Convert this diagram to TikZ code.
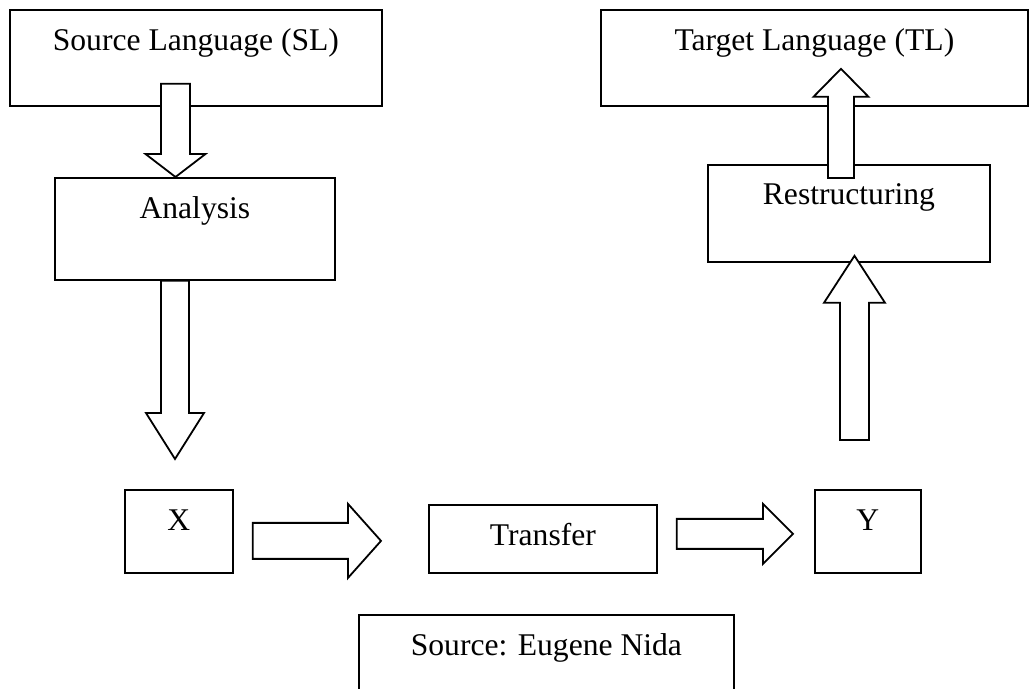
\documentclass[tikz,border=0pt]{standalone}
\usepackage{fontspec}
\setmainfont{Liberation Serif}
\usetikzlibrary{calc}

\tikzset{
  box/.style={draw, line width=0.9pt, inner sep=0pt, anchor=north west,
              font=\fontsize{15.8}{19}\selectfont},
  flowarrow/.style={draw, fill=white, line width=0.9pt, line join=miter},
}

% Hollow block arrow from #1 to #2: shaft half-width #3, head half-width #4, head length #5
\newcommand{\blockarrowpath}[5]{%
  \coordinate (bh) at ($(#2)!#5!(#1)$);
  \draw[flowarrow] ($(#1)!#3!90:(#2)$) -- ($(bh)!#3!90:(#2)$) -- ($(bh)!#4!90:(#2)$) -- (#2)
     -- ($(bh)!#4!-90:(#2)$) -- ($(bh)!#3!-90:(#2)$) -- ($(#1)!#3!-90:(#2)$) -- cycle;
}

\begin{document}
\begin{tikzpicture}[x=0.5pt,y=-0.5pt]
\useasboundingbox (0,0) rectangle (1030,689);
\clip (0,0) rectangle (1030,689);

% boxes
\node[box, minimum width=186pt,   text height=20.5pt, text depth=27.5pt] (sl)  at (9,9)     {Source Language (SL)};
\node[box, minimum width=213.5pt, text height=20.5pt, text depth=27.5pt] (tl)  at (600,9)   {Target Language (TL)};
\node[box, minimum width=140pt,   text height=20.5pt, text depth=30.5pt] (an)  at (54,177)  {Analysis};
\node[box, minimum width=141pt,   text height=20pt,   text depth=28.5pt] (rs)  at (707,164) {Restructuring};
\node[box, minimum width=54pt,    text height=20.5pt, text depth=21pt]   (xb)  at (124,489) {X};
\node[box, minimum width=114pt,   text height=20.5pt, text depth=13.5pt] (tr)  at (428,504) {Transfer};
\node[box, minimum width=53pt,    text height=20.5pt, text depth=21pt]   (yb)  at (814,489) {Y};
\node[box, minimum width=187.5pt, text height=20.5pt, text depth=22.5pt] (src) at (358,614) {Source: Eugene Nida};

% arrow end points
\coordinate (a1s) at ($(sl.south west)+(166.5,-23)$);
\coordinate (a1e) at ($(an.north west)+(121.5,0)$);
\coordinate (a2s) at ($(an.south west)+(121,0)$);
\coordinate (a2e) at ($(xb.north west)+(51,-30)$);
\coordinate (a3s) at ($(xb.east)+(19,9.5)$);
\coordinate (a3e) at ($(tr.west)+(-47,2)$);
\coordinate (a4s) at ($(tr.east)+(19,-5)$);
\coordinate (a4e) at ($(yb.west)+(-21,2.5)$);
\coordinate (a5s) at ($(yb.north west)+(40.5,-49)$);
\coordinate (a5e) at ($(rs.south west)+(147.5,-7)$);
\coordinate (a6s) at ($(rs.north west)+(134,14)$);
\coordinate (a6e) at ($(tl.south west)+(241,-38)$);

% block arrows
\blockarrowpath{a1s}{a1e}{7.25pt}{15pt}{11.5pt}
\blockarrowpath{a2s}{a2e}{7pt}{14.5pt}{23pt}
\blockarrowpath{a3s}{a3e}{9pt}{18.5pt}{16.5pt}
\blockarrowpath{a4s}{a4e}{7.5pt}{15pt}{15pt}
\blockarrowpath{a5s}{a5e}{7.25pt}{15.25pt}{23.5pt}
\blockarrowpath{a6s}{a6e}{6.5pt}{13.75pt}{14pt}
\end{tikzpicture}
\end{document}
